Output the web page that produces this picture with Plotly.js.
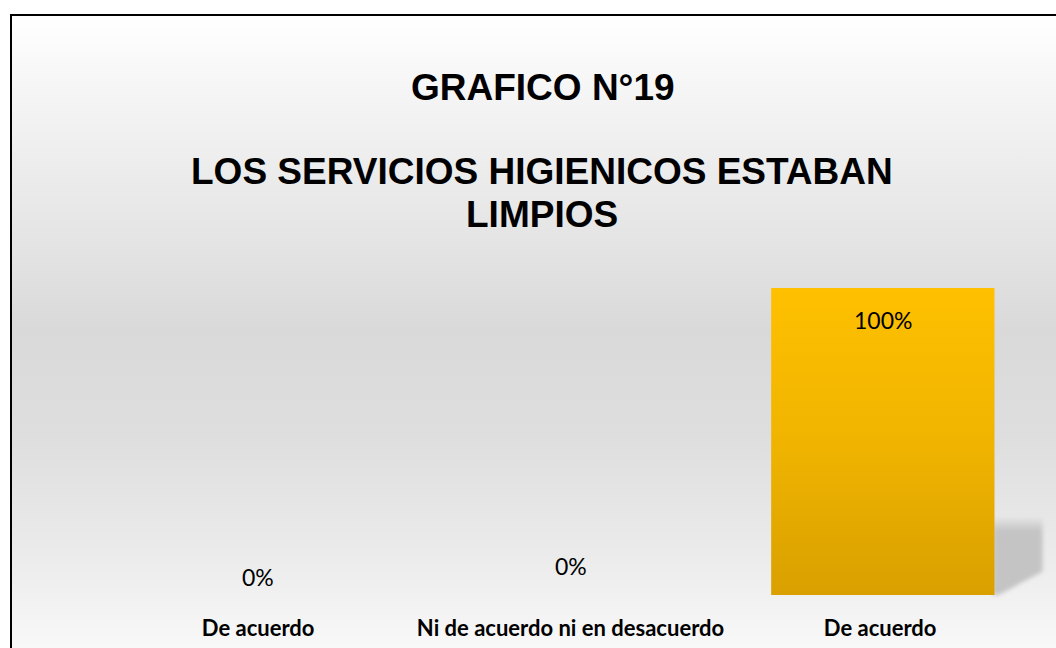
<!DOCTYPE html>
<html>
<head>
<meta charset="utf-8">
<script src="https://cdn.plot.ly/plotly-3.0.1.min.js"></script>
<style>
  html, body { margin: 0; padding: 0; background: #ffffff; }
  #wrap { position: relative; width: 1056px; height: 648px; overflow: hidden; background: #ffffff; }
  #bg { position: absolute; left: 10px; top: 14px; width: 1100px; height: 700px;
        border-left: 2px solid #000; border-top: 2px solid #000;
        background: linear-gradient(to bottom, #ffffff 0%, #f4f4f4 12%, #e2e2e2 35%, #d9d9d9 45%, #dedede 60%, #ececec 78%, #fafafa 92%, #ffffff 100%); }
  #chart { position: absolute; left: 0; top: 0; width: 1056px; height: 648px; }
</style>
</head>
<body>
<div id="wrap">
  <div id="bg"></div>
  <div id="chart"></div>
</div>
<script>
const categories = ["De acuerdo", "Ni de acuerdo ni en desacuerdo", "De acuerdo "];
const values = [0, 0, 100];
const labels = ["0%", "0%", "100%"];
const labelShift = [18, 29, -32];
const titleMain = "GRAFICO N°19";
const titleSubLines = ["LOS SERVICIOS HIGIENICOS ESTABAN", "LIMPIOS"];
const titleSubY = [1.378, 1.238];

const trace = {
  type: "bar",
  x: categories,
  y: values,
  marker: { color: "#ecb200", line: { width: 0 } },
  hoverinfo: "skip",
  cliponaxis: false
};

const annotations = categories.map((c, i) => ({
  x: c, y: values[i], xref: "x", yref: "y",
  text: labels[i], showarrow: false,
  yshift: labelShift[i], yanchor: "middle",
  font: { family: "Lato, 'Open Sans', sans-serif", size: 23, color: "#000" }
}));

titleSubLines.forEach((t, i) => annotations.push({
  xref: "paper", yref: "paper", x: 0.4696, y: titleSubY[i], yanchor: "middle",
  text: "<b>" + t + "</b>", showarrow: false,
  font: { family: "'Liberation Sans', Arial, sans-serif", size: 37, color: "#000" }
}));

const layout = {
  width: 1056, height: 648,
  margin: { l: 102, r: 17, t: 288, b: 53 },
  paper_bgcolor: "rgba(0,0,0,0)",
  plot_bgcolor: "rgba(0,0,0,0)",
  bargap: 0.285,
  showlegend: false,
  title: {
    text: "<b>" + titleMain + "</b>",
    x: 0.514, xanchor: "center", y: 0.866, yanchor: "middle",
    font: { family: "'Liberation Sans', Arial, sans-serif", size: 37, color: "#000" }
  },
  xaxis: {
    showgrid: false, zeroline: false, showline: false, ticks: "",
    tickfont: { family: "Lato, 'Open Sans', sans-serif", size: 22, color: "#000", weight: "bold" },
    ticklabelstandoff: 18, fixedrange: true
  },
  yaxis: {
    range: [0, 100], visible: false, showgrid: false, zeroline: false, fixedrange: true
  },
  annotations: annotations
};

Plotly.newPlot("chart", [trace], layout, { displayModeBar: false, staticPlot: true }).then(gd => {
  const svg = gd.querySelector(".main-svg");
  const ns = "http://www.w3.org/2000/svg";
  const defs = svg.querySelector("defs");
  function mkGrad(id, x2, y2, stops) {
    const g = document.createElementNS(ns, "linearGradient");
    g.setAttribute("id", id);
    g.setAttribute("x1", "0"); g.setAttribute("y1", "0");
    g.setAttribute("x2", x2); g.setAttribute("y2", y2);
    stops.forEach(([o, c, op]) => {
      const s = document.createElementNS(ns, "stop");
      s.setAttribute("offset", o); s.setAttribute("stop-color", c);
      s.setAttribute("stop-opacity", op == null ? 1 : op);
      g.appendChild(s);
    });
    defs.appendChild(g);
  }
  mkGrad("barGrad", "0", "1", [["0%", "#ffc000"], ["50%", "#f0b400"], ["100%", "#d9a000"]]);
  mkGrad("shGrad", "0", "1", [["0%", "#c4c4c4", 0], ["18%", "#c4c4c4", 1], ["100%", "#c4c4c4", 1]]);
  const filt = document.createElementNS(ns, "filter");
  filt.setAttribute("id", "shBlur");
  filt.setAttribute("x", "-20%"); filt.setAttribute("y", "-20%");
  filt.setAttribute("width", "140%"); filt.setAttribute("height", "140%");
  const fb = document.createElementNS(ns, "feGaussianBlur");
  fb.setAttribute("stdDeviation", "2");
  filt.appendChild(fb);
  defs.appendChild(filt);

  gd.querySelectorAll(".bars .point path").forEach(p => {
    p.style.fill = "url(#barGrad)";
    const b = p.getBBox();
    if (b.height < 5) return;
    const w = b.width * 0.215, h = b.height * 0.255;
    const x0 = b.x + b.width, yb = b.y + b.height;
    const poly = document.createElementNS(ns, "polygon");
    poly.setAttribute("points", [
      [x0 - 2, yb - h], [x0 + w, yb - h], [x0 + w, yb - h * 0.3], [x0 + 4, yb], [x0 - 2, yb]
    ].map(q => q.join(",")).join(" "));
    poly.setAttribute("fill", "url(#shGrad)");
    poly.setAttribute("filter", "url(#shBlur)");
    p.parentNode.insertBefore(poly, p);
  });
});
</script>
</body>
</html>
